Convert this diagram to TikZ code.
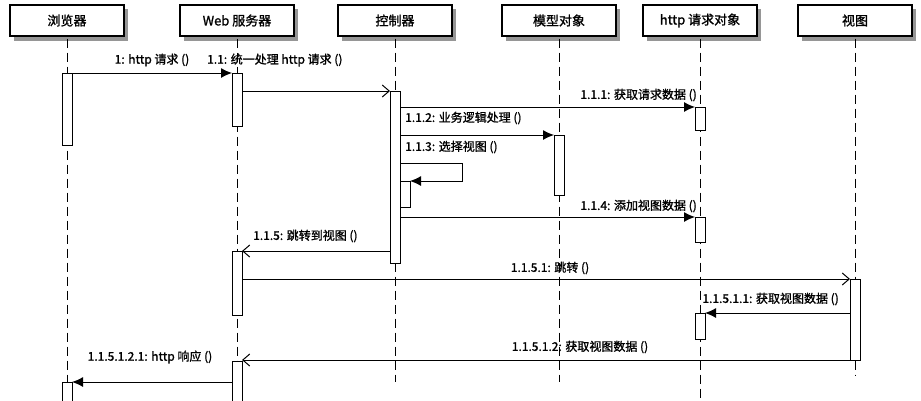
\documentclass[tikz,border=0pt]{standalone}
\usepackage{fontspec}
\setmainfont{Noto Sans CJK SC}[AutoFakeBold=1.2]
\usetikzlibrary{arrows.meta}
\definecolor{shadegray}{RGB}{150,150,150}
\tikzset{
  objbox/.style={draw,line width=1.4pt,fill=white,minimum width=114pt,minimum height=31pt,font=\fontsize{13}{14}\selectfont\bfseries},
  life/.style={dashed,dash pattern=on 9pt off 5pt,line width=1pt},
  act/.style={draw,fill=white,line width=0.9pt},
  call/.style={-{Latex[length=11pt,width=10pt]},line width=1pt},
  ret/.style={-{Straight Barb[length=7pt,width=12pt]},line width=1pt},
  msg/.style={font=\fontsize{12}{13}\selectfont\bfseries,inner sep=1pt}
}
\begin{document}
\begin{tikzpicture}[x=1pt,y=-1pt]
\useasboundingbox (0,0) rectangle (921,400);
% shadows of the objects
\foreach \x in {67,237,395,559,700,855}
  \fill[shadegray] (\x-53,9) rectangle (\x+61,41);
% objects
\node[objbox] (br) at (67,20.5) {浏览器};
\node[objbox] (web) at (237,20.5) {Web 服务器};
\node[objbox] (ctl) at (395,20.5) {控制器};
\node[objbox] (mod) at (559,20.5) {模型对象};
\node[objbox] (req) at (700,20.5) {http 请求对象};
\node[objbox] (view) at (855,20.5) {视图};
% lifelines
\foreach \n/\e in {br/400,web/400,ctl/382,mod/382,req/400,view/375}
  \draw[life] ([yshift=-2pt]\n.south) -- (\n.south |- 0,\e);
% activations
\draw[act] (62,73) rectangle (72,145);
\draw[act] (62,382) rectangle (72,405);
\draw[act] (232,73) rectangle (242,126);
\draw[act] (232,251) rectangle (242,315);
\draw[act] (232,361) rectangle (242,405);
\draw[act] (390,91) rectangle (400,263);
\draw[act] (400,181) rectangle (410,207);
\draw[act] (554,135) rectangle (564,195);
\draw[act] (695,107) rectangle (705,130);
\draw[act] (695,217) rectangle (705,242);
\draw[act] (695,313) rectangle (705,339);
\draw[act] (850,279) rectangle (860,360);
% messages
\draw[call] (72,73) -- (232,73);
\node[msg] at (152,60) {1: http 请求 ()};
\draw[ret] (242,91) -- (390,91);
\node[msg,anchor=west] at (206,60) {1.1: 统一处理 http 请求 ()};
\draw[call] (400,107) -- (695,107);
\node[msg,anchor=east] at (698,95) {1.1.1: 获取请求数据 ()};
\draw[call] (400,135) -- (554,135);
\node[msg,anchor=west] at (404,118) {1.1.2: 业务逻辑处理 ()};
\draw[call] (400,163) -- (462,163) -- (462,181) -- (410,181);
\node[msg,anchor=west] at (404,147) {1.1.3: 选择视图 ()};
\draw[call] (400,217) -- (695,217);
\node[msg,anchor=east] at (698,206) {1.1.4: 添加视图数据 ()};
\draw[ret] (390,251) -- (242,251);
\node[msg,anchor=west] at (252,236) {1.1.5: 跳转到视图 ()};
\draw[ret] (242,279) -- (850,279);
\node[msg] at (550,268) {1.1.5.1: 跳转 ()};
\draw[call] (850,313) -- (705,313);
\node[msg,anchor=east] at (840,299) {1.1.5.1.1: 获取视图数据 ()};
\draw[ret] (850,360) -- (242,360);
\node[msg] at (580,347) {1.1.5.1.2: 获取视图数据 ()};
\draw[call] (232,382) -- (72,382);
\node[msg] at (150,357) {1.1.5.1.2.1: http 响应 ()};
\end{tikzpicture}
\end{document}
